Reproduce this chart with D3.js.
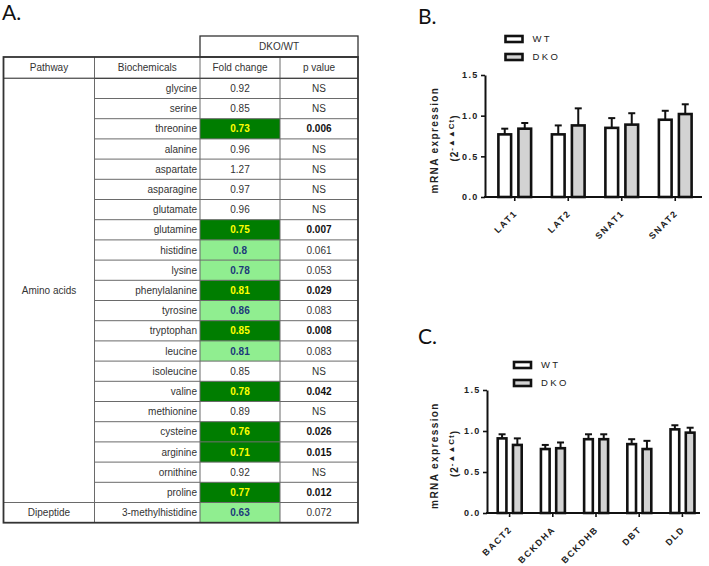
<!DOCTYPE html>
<html><head><meta charset="utf-8">
<script src="https://cdn.jsdelivr.net/npm/d3@7"></script>
<style>body{margin:0;background:#fff}svg{display:block}</style>
</head><body>
<svg id="fig" width="709" height="566"></svg>
<script>
// ---------- Panel A data ----------
const biochemicals = ["glycine","serine","threonine","alanine","aspartate","asparagine","glutamate","glutamine","histidine","lysine","phenylalanine","tyrosine","tryptophan","leucine","isoleucine","valine","methionine","cysteine","arginine","ornithine","proline","3-methylhistidine"];
const pathways = ["Amino acids","Amino acids","Amino acids","Amino acids","Amino acids","Amino acids","Amino acids","Amino acids","Amino acids","Amino acids","Amino acids","Amino acids","Amino acids","Amino acids","Amino acids","Amino acids","Amino acids","Amino acids","Amino acids","Amino acids","Amino acids","Dipeptide"];
const foldChange = [0.92,0.85,0.73,0.96,1.27,0.97,0.96,0.75,0.8,0.78,0.81,0.86,0.85,0.81,0.85,0.78,0.89,0.76,0.71,0.92,0.77,0.63];
const pValues = [null,null,0.006,null,null,null,null,0.007,0.061,0.053,0.029,0.083,0.008,0.083,null,0.042,null,0.026,0.015,null,0.012,0.072];
const tableHeaders = ["Pathway","Biochemicals","Fold change","p value"];
const groupHeader = "DKO/WT";

// ---------- Panel B data ----------
const genesB = ["LAT1","LAT2","SNAT1","SNAT2"];
const wtB = [0.77,0.77,0.85,0.95];
const wtBErr = [0.07,0.11,0.12,0.11];
const dkoB = [0.84,0.88,0.89,1.02];
const dkoBErr = [0.07,0.21,0.14,0.12];

// ---------- Panel C data ----------
const genesC = ["BACT2","BCKDHA","BCKDHB","DBT","DLD"];
const wtC = [0.91,0.78,0.90,0.84,1.02];
const wtCErr = [0.05,0.05,0.06,0.06,0.05];
const dkoC = [0.83,0.79,0.90,0.78,0.98];
const dkoCErr = [0.08,0.07,0.06,0.10,0.06];

const seriesNames = ["WT","DKO"];
const yTicks = [0,0.5,1.0,1.5];

const svg = d3.select("#fig");
const sans = "Arial, 'Liberation Sans', sans-serif";

// panel letters
svg.append("text").attr("x",2).attr("y",20).attr("font-family","Lato, 'Open Sans', sans-serif").attr("font-size",21).attr("fill","#111").text("A.");
svg.append("text").attr("x",418).attr("y",24).attr("font-family","Lato, 'Open Sans', sans-serif").attr("font-size",21).attr("fill","#111").text("B.");
svg.append("text").attr("x",418).attr("y",344).attr("font-family","Lato, 'Open Sans', sans-serif").attr("font-size",21).attr("fill","#111").text("C.");

// ---------- Table ----------
const colX = [3.5, 94.5, 200, 280, 358];
const top0 = 57, headBottom = 78.3, bottom0 = 522.7;
const rowY = d3.scaleBand().domain(d3.range(biochemicals.length)).range([headBottom, bottom0]);
const tbl = svg.append("g").attr("font-family", sans).attr("font-size", 10);
const lineCol = "#6a6a6a";

function cellStyle(p){
  if (p === null) return {fill:null, color:"#333", weight:"normal"};
  if (p < 0.05) return {fill:"#007d00", color:"#ffff00", weight:"bold"};
  return {fill:"#90ee90", color:"#1c3a7a", weight:"bold"};
}

// fills
biochemicals.forEach((b,i)=>{
  const s = cellStyle(pValues[i]);
  if (s.fill) tbl.append("rect").attr("x",colX[2]).attr("y",rowY(i)).attr("width",colX[3]-colX[2]).attr("height",rowY.bandwidth()).attr("fill",s.fill);
});

// DKO/WT header box
tbl.append("rect").attr("x",colX[2]).attr("y",36).attr("width",colX[4]-colX[2]).attr("height",top0-36)
  .attr("fill","none").attr("stroke","#333").attr("stroke-width",1.3);
tbl.append("text").attr("x",(colX[2]+colX[4])/2).attr("y",(36+top0)/2).attr("dy","0.35em").attr("text-anchor","middle").attr("fill","#333").text(groupHeader);

// header row
tableHeaders.forEach((h,j)=>{
  tbl.append("text").attr("x",(colX[j]+colX[j+1])/2).attr("y",(top0+headBottom)/2).attr("dy","0.35em")
    .attr("text-anchor","middle").attr("fill","#333").text(h);
});

// row lines
biochemicals.forEach((b,i)=>{
  tbl.append("line").attr("x1",colX[1]).attr("x2",colX[4]).attr("y1",rowY(i)).attr("y2",rowY(i)).attr("stroke",lineCol).attr("stroke-width",1);
});
// vertical lines
[1,2,3].forEach(j=>{
  tbl.append("line").attr("x1",colX[j]).attr("x2",colX[j]).attr("y1",top0).attr("y2",bottom0).attr("stroke",lineCol).attr("stroke-width",1);
});
// header bottom line full width
tbl.append("line").attr("x1",colX[0]).attr("x2",colX[4]).attr("y1",headBottom).attr("y2",headBottom).attr("stroke","#444").attr("stroke-width",1.2);

// pathway groups
const groups = d3.groups(d3.range(pathways.length), i=>pathways[i]);
groups.forEach(([name, idx])=>{
  const y1 = rowY(idx[0]), y2 = rowY(idx[idx.length-1]) + rowY.bandwidth();
  tbl.append("text").attr("x",(colX[0]+colX[1])/2).attr("y",(y1+y2)/2).attr("dy","0.35em").attr("text-anchor","middle").attr("fill","#333").text(name);
  tbl.append("line").attr("x1",colX[0]).attr("x2",colX[1]).attr("y1",y1).attr("y2",y1).attr("stroke",lineCol).attr("stroke-width",1);
});

// cell texts
biochemicals.forEach((b,i)=>{
  const yc = rowY(i) + rowY.bandwidth()/2;
  const s = cellStyle(pValues[i]);
  tbl.append("text").attr("x",colX[2]-3).attr("y",yc).attr("dy","0.35em").attr("text-anchor","end").attr("fill","#333").text(b);
  tbl.append("text").attr("x",(colX[2]+colX[3])/2).attr("y",yc).attr("dy","0.35em").attr("text-anchor","middle")
    .attr("fill",s.color).attr("font-weight",s.weight).text(String(foldChange[i]));
  const p = pValues[i];
  const pBold = p !== null && p < 0.05;
  tbl.append("text").attr("x",(colX[3]+colX[4])/2).attr("y",yc).attr("dy","0.35em").attr("text-anchor","middle")
    .attr("fill", pBold ? "#111" : "#333").attr("font-weight", pBold ? "bold" : "normal")
    .text(p === null ? "NS" : d3.format(".3f")(p));
});

// outer border
tbl.append("rect").attr("x",colX[0]).attr("y",top0).attr("width",colX[4]-colX[0]).attr("height",bottom0-top0)
  .attr("fill","none").attr("stroke","#333").attr("stroke-width",1.8);

// ---------- Bar charts ----------
function barChart(cfg){
  const g = svg.append("g").attr("font-family", sans);
  const y = d3.scaleLinear().domain([0,1.5]).range([cfg.y0, cfg.y1]);
  const x0 = d3.scaleBand().domain(cfg.genes).range([cfg.xStart, cfg.xEnd]);
  const bw = x0.bandwidth();
  const x1 = d3.scaleBand().domain(seriesNames).range([bw*cfg.inL, bw*cfg.inR]).paddingInner(cfg.pad);
  const sw = 2.6;
  const fills = {WT:"#ffffff", DKO:"#d3d3d3"};
  const data = [];
  cfg.genes.forEach((gname,i)=>{
    data.push({g:gname, s:"WT", v:cfg.wt[i], e:cfg.wtErr[i]});
    data.push({g:gname, s:"DKO", v:cfg.dko[i], e:cfg.dkoErr[i]});
  });
  // error bars
  data.forEach(d=>{
    const cx = x0(d.g) + x1(d.s) + x1.bandwidth()/2;
    g.append("line").attr("x1",cx).attr("x2",cx).attr("y1",y(d.v)).attr("y2",y(d.v+d.e)).attr("stroke","#111").attr("stroke-width",2);
    g.append("line").attr("x1",cx-3.5).attr("x2",cx+3.5).attr("y1",y(d.v+d.e)).attr("y2",y(d.v+d.e)).attr("stroke","#111").attr("stroke-width",2);
  });
  // bars
  data.forEach(d=>{
    const xl = x0(d.g) + x1(d.s) + sw/2;
    g.append("rect").attr("x",xl).attr("y",y(d.v)).attr("width",x1.bandwidth()-sw).attr("height",y(0)-y(d.v))
      .attr("fill",fills[d.s]).attr("stroke","#111").attr("stroke-width",sw);
  });
  // y axis
  const ya = g.append("g").attr("transform",`translate(${cfg.axisX},0)`)
    .call(d3.axisLeft(y).tickValues(yTicks).tickFormat(d3.format(".1f")).tickSize(4).tickSizeOuter(0).tickPadding(2.5));
  ya.select(".domain").attr("stroke","#111").attr("stroke-width",2);
  ya.selectAll(".tick line").attr("stroke","#111").attr("stroke-width",1.6);
  ya.selectAll(".tick text").attr("font-family",sans).attr("font-size",9).attr("font-weight","bold").attr("letter-spacing","1.3px").attr("fill","#222");
  // x axis
  const xa = g.append("g").attr("transform",`translate(0,${cfg.y0})`)
    .call(d3.axisBottom(x0).tickSize(4).tickSizeOuter(0));
  xa.select(".domain").remove();
  g.append("line").attr("x1",cfg.axisX-1).attr("x2",cfg.xAxisEnd).attr("y1",cfg.y0).attr("y2",cfg.y0).attr("stroke","#111").attr("stroke-width",2);
  xa.selectAll(".tick line").attr("stroke","#111").attr("stroke-width",1.6);
  xa.selectAll(".tick text").attr("font-family",sans).attr("font-size",9).attr("font-weight","bold").attr("letter-spacing","1.5px").attr("fill","#222")
    .attr("text-anchor","end").attr("y",0).attr("dy",0)
    .attr("transform","translate(3,17) rotate(-45)");
  // y label
  const yc = (cfg.y0 + cfg.y1)/2 + 4;
  g.append("text").attr("transform",`translate(${cfg.labX},${yc}) rotate(-90)`).attr("text-anchor","middle")
    .attr("font-size",10).attr("font-weight","bold").attr("letter-spacing","1.4px").attr("fill","#222").text("mRNA expression");
  const t2 = g.append("text").attr("transform",`translate(${cfg.labX+20},${yc - 2}) rotate(-90)`).attr("text-anchor","middle")
    .attr("font-size",10).attr("font-weight","bold").attr("letter-spacing","1px").attr("fill","#222");
  t2.append("tspan").text("(2");
  t2.append("tspan").attr("dy",-4).attr("font-size",8).text("-\u25B2\u25B2Ct");
  t2.append("tspan").attr("dy",4).text(")");
  // legend
  seriesNames.forEach((s,i)=>{
    const ly = cfg.legY + i*18;
    g.append("rect").attr("x",cfg.legX).attr("y",ly).attr("width",17).attr("height",6)
      .attr("fill",fills[s]).attr("stroke","#111").attr("stroke-width",2.6);
    g.append("text").attr("x",cfg.legX+27).attr("y",ly+3).attr("dy","0.35em").attr("font-size",9.5).attr("letter-spacing","2.4px").attr("fill","#222").text(s);
  });
}

barChart({genes:genesB, wt:wtB, wtErr:wtBErr, dko:dkoB, dkoErr:dkoBErr,
  y0:197, y1:75, xStart:488, xEnd:702, xAxisEnd:702, axisX:485, inL:0.17, inR:0.83, pad:0.235,
  labX:438, legX:505.5, legY:36});
barChart({genes:genesC, wt:wtC, wtErr:wtCErr, dko:dkoC, dkoErr:dkoCErr,
  y0:513, y1:390, xStart:488, xEnd:704, xAxisEnd:700, axisX:487, inL:0.195, inR:0.81, pad:0.26,
  labX:438, legX:514, legY:362});
</script>
</body></html>
